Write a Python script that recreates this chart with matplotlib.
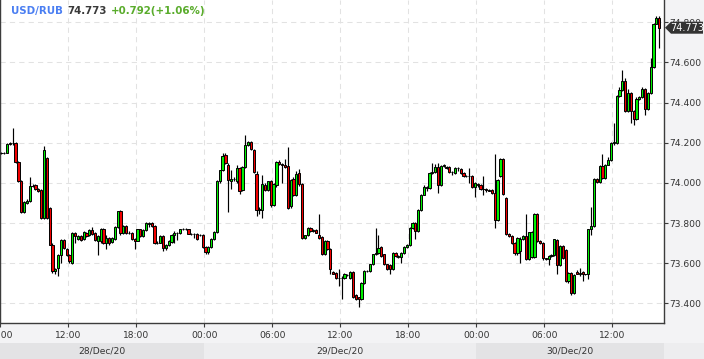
import numpy as np
import pandas as pd
import matplotlib
matplotlib.use('Agg')
import matplotlib.pyplot as plt
import matplotlib.dates as mdates
import matplotlib.transforms as mtransforms
from matplotlib.patches import Rectangle, Polygon

# ---- data: USD/RUB 15-minute candles, 28 Dec 06:00 -> 30 Dec 16:00 ----
opens = [
    74.150, 74.149, 74.150, 74.194, 74.198, 74.200, 74.103, 74.008, 73.856, 73.900,
    73.908, 73.985, 73.988, 73.970, 73.965, 73.826, 74.124, 73.876, 73.690, 73.560,
    73.575, 73.643, 73.714, 73.670, 73.643, 73.602, 73.751, 73.720, 73.734, 73.720,
    73.750, 73.740, 73.766, 73.750, 73.712, 73.712, 73.768, 73.700, 73.725, 73.705,
    73.722, 73.780, 73.859, 73.751, 73.785, 73.752, 73.751, 73.720, 73.712, 73.768,
    73.735, 73.765, 73.795, 73.800, 73.785, 73.700, 73.702, 73.733, 73.675, 73.690,
    73.705, 73.738, 73.750, 73.748, 73.768, 73.770, 73.768, 73.746, 73.746, 73.746,
    73.740, 73.740, 73.680, 73.655, 73.680, 73.720, 73.755, 74.008, 74.063, 74.141,
    74.088, 74.010, 74.020, 74.008, 74.075, 73.967, 74.080, 74.190, 74.203, 74.166,
    74.046, 73.864, 73.866, 73.990, 73.965, 74.008, 73.889, 73.990, 74.105, 74.095,
    74.090, 74.085, 73.884, 74.019, 73.942, 74.050, 73.992, 73.726, 73.738, 73.776,
    73.760, 73.765, 73.738, 73.730, 73.648, 73.709, 73.672, 73.555, 73.553, 73.527,
    73.528, 73.527, 73.542, 73.527, 73.556, 73.440, 73.430, 73.422, 73.499, 73.561,
    73.561, 73.594, 73.644, 73.649, 73.682, 73.644, 73.594, 73.590, 73.572, 73.652,
    73.636, 73.632, 73.650, 73.682, 73.690, 73.776, 73.800, 73.759, 73.867, 73.942,
    73.980, 73.975, 74.050, 74.053, 74.080, 73.987, 74.083, 74.080, 74.077, 74.053,
    74.050, 74.075, 74.070, 74.050, 74.035, 74.036, 74.035, 73.980, 73.995, 73.987,
    73.970, 73.970, 73.963, 73.965, 73.952, 73.817, 74.035, 74.121, 73.926, 73.743,
    73.735, 73.700, 73.652, 73.660, 73.720, 73.737, 73.622, 73.630, 73.630, 73.843,
    73.712, 73.700, 73.625, 73.622, 73.636, 73.640, 73.717, 73.590, 73.686, 73.665,
    73.513, 73.552, 73.449, 73.556, 73.548, 73.555, 73.544, 73.544, 73.768, 73.784,
    74.020, 74.004, 74.086, 74.025, 74.091, 74.112, 74.199, 74.199, 74.434, 74.464,
    74.509, 74.360, 74.450, 74.360, 74.318, 74.418, 74.427, 74.468, 74.368, 74.448,
    74.577, 74.793, 74.821,
]
highs = [
    74.155, 74.155, 74.197, 74.205, 74.273, 74.205, 74.110, 74.012, 73.910, 73.918,
    74.030, 73.995, 73.992, 73.975, 73.970, 74.182, 74.130, 73.880, 73.700, 73.575,
    73.645, 73.720, 73.718, 73.675, 73.648, 73.755, 73.756, 73.740, 73.740, 73.760,
    73.755, 73.770, 73.780, 73.755, 73.740, 73.775, 73.775, 73.740, 73.730, 73.730,
    73.785, 73.862, 73.865, 73.790, 73.790, 73.760, 73.755, 73.725, 73.772, 73.772,
    73.770, 73.805, 73.805, 73.805, 73.790, 73.710, 73.740, 73.740, 73.695, 73.715,
    73.745, 73.760, 73.755, 73.770, 73.775, 73.775, 73.772, 73.750, 73.750, 73.750,
    73.745, 73.745, 73.685, 73.685, 73.725, 73.760, 74.012, 74.065, 74.150, 74.150,
    74.100, 74.063, 74.030, 74.090, 74.078, 74.085, 74.237, 74.210, 74.210, 74.170,
    74.060, 73.880, 74.041, 74.000, 74.010, 74.012, 74.000, 74.110, 74.112, 74.100,
    74.120, 74.180, 74.020, 74.030, 74.060, 74.070, 74.000, 73.742, 73.780, 73.780,
    73.768, 73.770, 73.843, 73.735, 73.715, 73.715, 73.678, 73.560, 73.558, 73.569,
    73.535, 73.550, 73.548, 73.560, 73.560, 73.445, 73.434, 73.505, 73.565, 73.566,
    73.598, 73.648, 73.776, 73.738, 73.686, 73.648, 73.598, 73.594, 73.656, 73.656,
    73.640, 73.655, 73.686, 73.694, 73.780, 73.804, 73.805, 73.870, 73.945, 73.990,
    73.985, 74.055, 74.100, 74.095, 74.098, 74.090, 74.095, 74.085, 74.082, 74.058,
    74.078, 74.080, 74.075, 74.055, 74.040, 74.075, 74.040, 74.002, 74.000, 73.992,
    74.035, 73.975, 73.968, 73.970, 74.144, 74.020, 74.125, 74.125, 73.930, 73.748,
    73.740, 73.705, 73.730, 73.730, 73.738, 73.843, 73.756, 73.758, 73.852, 73.850,
    73.716, 73.705, 73.628, 73.640, 73.645, 73.722, 73.720, 73.690, 73.690, 73.670,
    73.556, 73.556, 73.548, 73.565, 73.575, 73.560, 73.548, 73.772, 73.880, 74.025,
    74.025, 74.090, 74.143, 74.095, 74.130, 74.205, 74.300, 74.440, 74.480, 74.560,
    74.520, 74.470, 74.455, 74.365, 74.430, 74.432, 74.480, 74.472, 74.452, 74.620,
    74.797, 74.830, 74.830,
]
lows = [
    74.145, 74.145, 74.147, 74.190, 74.190, 74.100, 74.005, 73.850, 73.850, 73.895,
    73.905, 73.978, 73.965, 73.955, 73.820, 73.820, 73.820, 73.690, 73.550, 73.545,
    73.535, 73.600, 73.670, 73.635, 73.600, 73.598, 73.700, 73.715, 73.712, 73.715,
    73.730, 73.735, 73.740, 73.710, 73.643, 73.700, 73.695, 73.670, 73.690, 73.700,
    73.715, 73.775, 73.740, 73.745, 73.745, 73.745, 73.715, 73.670, 73.708, 73.730,
    73.730, 73.760, 73.780, 73.780, 73.695, 73.695, 73.700, 73.660, 73.665, 73.685,
    73.700, 73.700, 73.715, 73.745, 73.765, 73.765, 73.745, 73.740, 73.725, 73.715,
    73.735, 73.675, 73.648, 73.645, 73.675, 73.715, 73.750, 74.000, 74.060, 74.095,
    73.854, 73.970, 74.010, 74.000, 73.945, 73.960, 74.075, 74.185, 74.165, 74.050,
    73.835, 73.845, 73.826, 73.960, 73.960, 73.880, 73.885, 73.980, 74.090, 74.000,
    74.075, 73.870, 73.875, 73.935, 73.935, 73.985, 73.720, 73.720, 73.735, 73.755,
    73.755, 73.748, 73.722, 73.640, 73.640, 73.665, 73.544, 73.545, 73.522, 73.486,
    73.422, 73.520, 73.535, 73.520, 73.428, 73.418, 73.380, 73.418, 73.495, 73.556,
    73.556, 73.590, 73.640, 73.645, 73.630, 73.590, 73.565, 73.544, 73.568, 73.632,
    73.625, 73.600, 73.646, 73.678, 73.686, 73.772, 73.720, 73.755, 73.862, 73.938,
    73.960, 73.970, 74.045, 74.048, 73.950, 73.982, 74.078, 74.070, 74.050, 74.040,
    74.045, 74.060, 74.045, 74.030, 74.030, 74.000, 73.975, 73.930, 73.980, 73.965,
    73.940, 73.955, 73.958, 73.945, 73.776, 73.810, 74.030, 73.938, 73.738, 73.730,
    73.695, 73.640, 73.640, 73.600, 73.715, 73.618, 73.615, 73.625, 73.625, 73.705,
    73.695, 73.618, 73.618, 73.590, 73.630, 73.635, 73.544, 73.585, 73.620, 73.505,
    73.500, 73.440, 73.445, 73.545, 73.535, 73.510, 73.540, 73.520, 73.740, 73.780,
    73.998, 74.000, 74.020, 74.020, 74.088, 74.108, 74.190, 74.195, 74.430, 74.460,
    74.355, 74.355, 74.300, 74.290, 74.314, 74.414, 74.422, 74.340, 74.364, 74.444,
    74.573, 74.789, 74.670,
]
closes = [
    74.149, 74.150, 74.194, 74.198, 74.200, 74.103, 74.008, 73.856, 73.905, 73.912,
    73.985, 73.986, 73.970, 73.962, 73.826, 74.166, 73.826, 73.693, 73.560, 73.570,
    73.640, 73.714, 73.677, 73.640, 73.610, 73.751, 73.734, 73.734, 73.717, 73.755,
    73.734, 73.766, 73.745, 73.714, 73.734, 73.768, 73.700, 73.725, 73.700, 73.725,
    73.780, 73.859, 73.748, 73.785, 73.751, 73.748, 73.720, 73.712, 73.768, 73.735,
    73.765, 73.800, 73.802, 73.785, 73.700, 73.702, 73.733, 73.675, 73.690, 73.710,
    73.738, 73.750, 73.748, 73.768, 73.770, 73.768, 73.746, 73.746, 73.745, 73.720,
    73.742, 73.680, 73.655, 73.680, 73.720, 73.755, 74.008, 74.063, 74.136, 74.100,
    74.016, 74.020, 74.020, 74.075, 73.962, 74.080, 74.190, 74.203, 74.170, 74.053,
    73.864, 73.870, 73.996, 73.965, 74.008, 73.889, 73.995, 74.105, 74.095, 74.090,
    74.080, 73.877, 74.016, 73.942, 74.046, 73.992, 73.726, 73.738, 73.776, 73.760,
    73.765, 73.752, 73.726, 73.648, 73.709, 73.672, 73.569, 73.548, 73.527, 73.528,
    73.527, 73.545, 73.540, 73.556, 73.433, 73.422, 73.422, 73.499, 73.561, 73.561,
    73.594, 73.644, 73.649, 73.677, 73.636, 73.594, 73.569, 73.572, 73.652, 73.636,
    73.629, 73.650, 73.682, 73.690, 73.776, 73.800, 73.760, 73.867, 73.942, 73.980,
    73.975, 74.050, 74.053, 74.080, 73.987, 74.083, 74.088, 74.075, 74.053, 74.052,
    74.075, 74.074, 74.050, 74.035, 74.036, 74.035, 73.980, 73.998, 73.990, 73.970,
    73.968, 73.963, 73.962, 73.952, 73.817, 74.013, 74.121, 73.943, 73.743, 73.735,
    73.701, 73.652, 73.726, 73.720, 73.733, 73.622, 73.754, 73.754, 73.843, 73.709,
    73.700, 73.625, 73.622, 73.636, 73.640, 73.718, 73.590, 73.686, 73.625, 73.513,
    73.552, 73.449, 73.543, 73.548, 73.552, 73.544, 73.544, 73.768, 73.784, 74.020,
    74.004, 74.086, 74.025, 74.091, 74.112, 74.199, 74.202, 74.434, 74.464, 74.509,
    74.360, 74.450, 74.360, 74.318, 74.418, 74.427, 74.468, 74.368, 74.448, 74.577,
    74.793, 74.821, 74.773,
]
y_ticks = [73.4, 73.6, 73.8, 74.0, 74.2, 74.4, 74.6, 74.8]
day_labels = ['28/Dec/20', '29/Dec/20', '30/Dec/20']
title_parts = [('USD/RUB', '#4a7ef2'), ('74.773', '#3a3a3a'), ('+0.792(+1.06%)', '#5aac2c')]
last_price = 74.773

# ---- figure ----
W, H = 704, 359
fig = plt.figure(figsize=(W / 100, H / 100), dpi=100, facecolor='#f3f3f5')
ax = fig.add_axes([0, 36 / H, 664 / W, 323 / H])
ax.set_facecolor('white')

start = pd.Timestamp('2020-12-28 06:00')
times = pd.date_range(start, periods=len(opens), freq='15min')
xc = mdates.date2num(times + pd.Timedelta(minutes=7.5))
o = np.array(opens); h = np.array(highs); l = np.array(lows); c = np.array(closes)

x_left = mdates.date2num(start)
x_right = mdates.date2num(start + pd.Timedelta(hours=58.55))
ax.set_xlim(x_left, x_right)
ax.set_ylim(73.302, 74.911)

bw = 15 / 1440 * 0.78
up = c >= o
fills = np.where(up, '#00f000', '#f00000')
ax.vlines(xc, l, h, color='black', lw=0.85, zorder=2)
ax.bar(xc, np.abs(c - o), width=bw, bottom=np.minimum(o, c), color=fills,
       edgecolor='black', linewidth=0.7, zorder=3)

# grid
xt = pd.date_range(start, '2020-12-30 12:00', freq='6h')
ax.set_xticks(mdates.date2num(xt))
ax.set_xticklabels([t.strftime('%H:%M') for t in xt])
ax.set_yticks(y_ticks)
ax.set_yticklabels(['%.3f' % v for v in y_ticks])
ax.grid(True, color='#e2e2e2', linestyle=(0, (5, 4)), linewidth=0.75, zorder=0)
ax.set_axisbelow(True)

for s in ['left', 'right', 'bottom']:
    ax.spines[s].set_color('#3c3c3c')
    ax.spines[s].set_linewidth(1.0)
ax.spines['top'].set_visible(False)
ax.yaxis.tick_right()
ax.tick_params(axis='y', which='both', left=False, right=True, labelleft=False,
               labelright=True, length=3, width=0.8, color='#3c3c3c', pad=1,
               labelsize=6.6, labelcolor='#333333')
ax.tick_params(axis='x', length=3, width=0.8, color='#3c3c3c', pad=2.5,
               labelsize=6.6, labelcolor='#333333')

# date band
trans = mtransforms.blended_transform_factory(ax.transData, fig.transFigure)
bh = 16 / H
bounds = [pd.Timestamp('2020-12-28 00:00'), pd.Timestamp('2020-12-29 00:00'),
          pd.Timestamp('2020-12-30 00:00')]
ends = [mdates.date2num(bounds[1]), mdates.date2num(bounds[2]), x_right]
begs = [mdates.date2num(bounds[0]), mdates.date2num(bounds[1]), mdates.date2num(bounds[2])]
band_cols = ['#e3e3e5', '#ededef', '#e3e3e5']
for b0, b1, col, lab in zip(begs, ends, band_cols, day_labels):
    fig.add_artist(Rectangle((b0, 0), b1 - b0, bh, transform=trans, facecolor=col,
                             edgecolor='none', zorder=1, clip_on=False))
    vis0 = max(b0, x_left)
    fig.text((vis0 + b1) / 2, 8 / H, lab, transform=trans, ha='center', va='center',
             fontsize=6.6, color='#333333', zorder=2)
fig.add_artist(Rectangle((664 / W, 0), 1 - 664 / W, bh, transform=fig.transFigure,
                         facecolor='#ededef', edgecolor='none', zorder=1))

# last price tag
yc = ax.transData.transform((x_left, last_price))[1]
pts = [(665, yc), (671, yc + 6), (703, yc + 6), (703, yc - 6), (671, yc - 6)]
fig.add_artist(Polygon(pts, closed=True, transform=mtransforms.IdentityTransform(),
                       facecolor='#333333', edgecolor='none', zorder=5))
fig.text(687, yc, '%.3f' % last_price, transform=mtransforms.IdentityTransform(),
         ha='center', va='center', fontsize=7, color='white', zorder=6)

# title
renderer = fig.canvas.get_renderer()
xp = 11
ty = H - 11
for txt, col in title_parts:
    t = fig.text(xp, ty, txt, transform=mtransforms.IdentityTransform(),
                 ha='left', va='center', fontsize=7.4, fontweight='bold', color=col)
    bb = t.get_window_extent(renderer=renderer)
    xp = bb.x1 + 4

fig.savefig('out.png', dpi=100, facecolor=fig.get_facecolor())
